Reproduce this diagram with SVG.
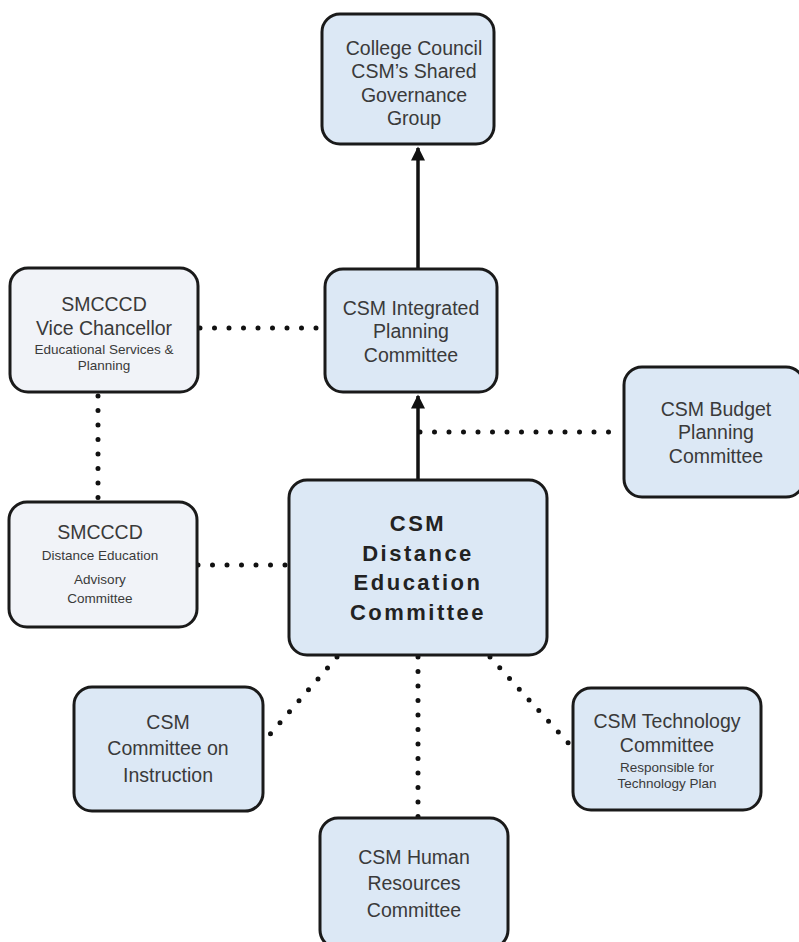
<svg xmlns="http://www.w3.org/2000/svg" width="799" height="942" viewBox="0 0 799 942">
<style>
.box{fill:#dce8f5;stroke:#1a1a1a;stroke-width:3}
.gray{fill:#f1f3f8;stroke:#1a1a1a;stroke-width:3}
text{font-family:"Liberation Sans",Arial,sans-serif;fill:#3a3a3a;text-anchor:middle;dominant-baseline:central}
.t{font-size:19.5px}
.s{font-size:13.5px}
.b{font-size:22px;font-weight:bold;letter-spacing:2.5px;fill:#222}
.dot{fill:none;stroke:#111;stroke-width:5;stroke-linecap:round;stroke-dasharray:0 14.5}
.solid{fill:none;stroke:#111;stroke-width:3.5}
</style>
<defs>
<marker id="ah" viewBox="0 0 10 10" refX="9" refY="5" markerWidth="4.5" markerHeight="4" orient="auto" markerUnits="strokeWidth">
<path d="M0,0 L10,5 L0,10 z" fill="#111"/>
</marker>
</defs>
<rect width="799" height="942" fill="#fff"/>
<g id="connectors">
<line class="solid" x1="418" y1="268" x2="418" y2="148" marker-end="url(#ah)"/>
<line class="solid" x1="418" y1="479" x2="418" y2="396" marker-end="url(#ah)"/>
<line class="dot" x1="200" y1="328" x2="323" y2="328"/>
<line class="dot" x1="98" y1="396" x2="98" y2="500"/>
<line class="dot" x1="198" y1="565" x2="287" y2="565"/>
<line class="dot" x1="420" y1="432" x2="622" y2="432"/>
<line class="dot" x1="337" y1="657" x2="265" y2="740"/>
<line class="dot" x1="418" y1="657" x2="418" y2="817"/>
<line class="dot" x1="490" y1="657" x2="571" y2="746"/>
</g>
<g id="college-council">
<rect class="box" x="322" y="14" width="172" height="130" rx="18"/>
<text class="t" x="414" y="48">College Council</text>
<text class="t" x="414" y="71">CSM’s Shared</text>
<text class="t" x="414" y="95">Governance</text>
<text class="t" x="414" y="118">Group</text>
</g>
<g id="integrated-planning">
<rect class="box" x="325" y="269" width="172" height="123" rx="18"/>
<text class="t" x="411" y="308">CSM Integrated</text>
<text class="t" x="411" y="331">Planning</text>
<text class="t" x="411" y="355">Committee</text>
</g>
<g id="vice-chancellor">
<rect class="gray" x="10" y="268" width="188" height="124" rx="18"/>
<text class="t" x="104" y="304">SMCCCD</text>
<text class="t" x="104" y="328">Vice Chancellor</text>
<text class="s" x="104" y="349">Educational Services &amp;</text>
<text class="s" x="104" y="365">Planning</text>
</g>
<g id="budget">
<rect class="box" x="624" y="367" width="180" height="130" rx="18"/>
<text class="t" x="716" y="409">CSM Budget</text>
<text class="t" x="716" y="432">Planning</text>
<text class="t" x="716" y="456">Committee</text>
</g>
<g id="de-advisory">
<rect class="gray" x="9" y="502" width="188" height="125" rx="18"/>
<text class="t" x="100" y="532">SMCCCD</text>
<text class="s" x="100" y="555">Distance Education</text>
<text class="s" x="100" y="579">Advisory</text>
<text class="s" x="100" y="598">Committee</text>
</g>
<g id="de-committee">
<rect class="box" x="289" y="480" width="258" height="175" rx="18"/>
<text class="b" x="418" y="523">CSM</text>
<text class="b" x="418" y="553">Distance</text>
<text class="b" x="418" y="582">Education</text>
<text class="b" x="418" y="612">Committee</text>
</g>
<g id="instruction">
<rect class="box" x="74" y="687" width="189" height="124" rx="18"/>
<text class="t" x="168" y="722">CSM</text>
<text class="t" x="168" y="748">Committee on</text>
<text class="t" x="168" y="775">Instruction</text>
</g>
<g id="technology">
<rect class="box" x="573" y="688" width="188" height="122" rx="18"/>
<text class="t" x="667" y="721">CSM Technology</text>
<text class="t" x="667" y="745">Committee</text>
<text class="s" x="667" y="767">Responsible for</text>
<text class="s" x="667" y="783">Technology Plan</text>
</g>
<g id="human-resources">
<rect class="box" x="320" y="818" width="188" height="130" rx="18"/>
<text class="t" x="414" y="857">CSM Human</text>
<text class="t" x="414" y="883">Resources</text>
<text class="t" x="414" y="910">Committee</text>
</g>
</svg>
